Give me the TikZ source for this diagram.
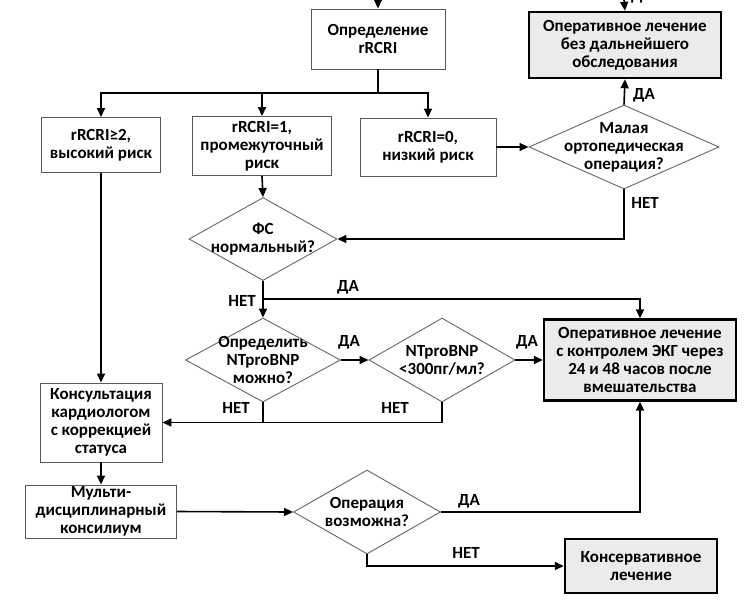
\documentclass[tikz,border=0pt]{standalone}
\usepackage{fontspec}
\setmainfont{Carlito}
\usetikzlibrary{shapes.geometric,arrows.meta}
\begin{document}
\begin{tikzpicture}[x=1pt,y=-1pt,
  font=\bfseries\fontsize{17}{18}\selectfont,
  box/.style={draw=black!65, line width=0.9pt, fill=white, align=center, inner sep=0pt},
  fin/.style={draw=black, line width=2.4pt, fill=black!8, align=center, inner sep=0pt},
  dec/.style={draw=black!60, line width=0.9pt, diamond, fill=white, inner sep=0pt},
  arr/.style={-{Triangle[length=9pt,width=8pt]}, line width=1.6pt},
  ln/.style={line width=1.6pt},
  lbl/.style={inner sep=0pt}]
\useasboundingbox (0,0) rectangle (751,608);
\fill[white] (0,0) rectangle (751,608);
% nodes
\node[box, minimum width=134pt, minimum height=60pt] (A) at (378,39) {Определение\\rRCRI};
\node[fin, minimum width=192pt, minimum height=66pt] (TR) at (625,45) {Оперативное лечение\\без дальнейшего\\обследования};
\node[box, minimum width=119pt, minimum height=55pt] (B1) at (101,145) {rRCRI≥2,\\высокий риск};
\node[box, minimum width=139pt, minimum height=59pt] (B2) at (262,146) {rRCRI=1,\\промежуточный\\риск};
\node[box, minimum width=136pt, minimum height=58pt] (B3) at (428,147) {rRCRI=0,\\низкий риск};
\node[dec, minimum width=190pt, minimum height=84pt, label={[align=center]center:{Малая\\ортопедическая\\операция?}}] (D1) at (624,147) {};
\node[dec, minimum width=148pt, minimum height=83pt, label={[align=center]center:{ФС\\нормальный?}}] (D2) at (263,239) {};
\node[dec, minimum width=155pt, minimum height=84pt, label={[align=center]center:{Определить\\NTproBNP\\можно?}}] (D3) at (263,360) {};
\node[dec, minimum width=146pt, minimum height=84pt, label={[align=center]center:{NTproBNP\\<300пг/мл?}}] (D4) at (442,360) {};
\node[fin, minimum width=192pt, minimum height=81pt] (E) at (640,360) {Оперативное лечение\\с контролем ЭКГ через\\24 и 48 часов после\\вмешательства};
\node[box, minimum width=122pt, minimum height=79pt] (K) at (101,422.5) {Консультация\\кардиологом\\с коррекцией\\статуса};
\node[box, minimum width=151pt, minimum height=53pt] (M) at (101,511.5) {Мульти-\\дисциплинарный\\консилиум};
\node[dec, minimum width=147pt, minimum height=84pt, label={[align=center]center:{Операция\\возможна?}}] (D5) at (367,512) {};
\node[fin, minimum width=152pt, minimum height=54pt] (C) at (641,566) {Консервативное\\лечение};
% helper coordinates
\coordinate (top1) at (378,0);
\coordinate (top2) at (624,0);
\coordinate (br) at (378,93);
\coordinate (br2) at (263,299);
% connectors
\draw[arr] (top1) -- (A.north);
\draw[arr] (top2) -- (TR.north);
\node[lbl] (l0) at (642,-4) {ДА};
\draw[ln] (A.south) -- (br);
\draw[arr] (br) -| (B1.north);
\draw[arr] (br) -| (B2.north);
\draw[arr] (br) -| (B3.north);
\draw[arr] (B3.east) -- (D1.west);
\draw[arr] (D1.north) -- (TR.south);
\node[lbl] (l1) at (644,95) {ДА};
\draw[arr] (D1.south) |- (D2.east);
\node[lbl] (l2) at (645,203) {НЕТ};
\draw[arr] (B2.south) -- (D2.north);
\draw[arr] (D2.south) -- (D3.north);
\draw[arr] (br2) -| (E.north);
\node[lbl] (l3) at (242,301) {НЕТ};
\node[lbl] (l4) at (348,287) {ДА};
\draw[arr] (D3.east) -- (D4.west);
\node[lbl] (l5) at (349,342) {ДА};
\draw[arr] (D4.east) -- (E.west);
\node[lbl] (l6) at (527,342) {ДА};
\draw[arr] (D3.south) |- (K.east);
\draw[ln] (D4.south) |- (D3.south |- K.east);
\node[lbl] (l7) at (236,408) {НЕТ};
\node[lbl] (l8) at (395,408) {НЕТ};
\draw[arr] (B1.south) -- (K.north);
\draw[arr] (K.south) -- (M.north);
\draw[arr] (M.east) -- (D5.west);
\draw[arr] (D5.east) -| (E.south);
\node[lbl] (l9) at (469,501) {ДА};
\draw[arr] (D5.south) |- (C.west);
\node[lbl] (l10) at (466,553) {НЕТ};
\end{tikzpicture}
\end{document}
